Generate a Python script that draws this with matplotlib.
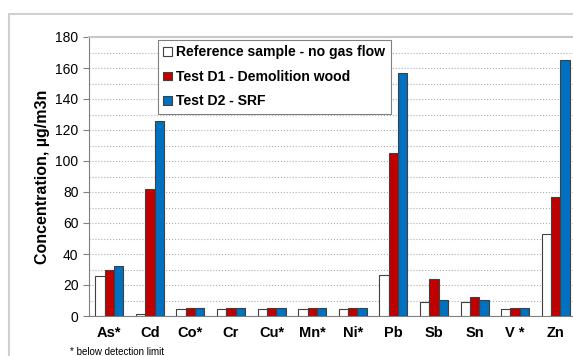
import numpy as np
import matplotlib.pyplot as plt
from matplotlib.patches import Rectangle

elements = ['As*', 'Cd', 'Co*', 'Cr', 'Cu*', 'Mn*', 'Ni*', 'Pb', 'Sb', 'Sn', 'V *', 'Zn']
reference = [26, 1.5, 4.5, 4.5, 4.5, 4.5, 4.5, 26.5, 9, 9, 4.5, 53]
test_d1 = [30, 82, 5, 5, 5, 5, 5, 105, 24, 12, 5, 76.5]
test_d2 = [32, 126, 5, 5, 5, 5, 5, 157, 10.5, 10.5, 5, 165]
labels = ['Reference sample - no gas flow', 'Test D1 - Demolition wood', 'Test D2 - SRF']

plt.rcParams['font.family'] = ['Liberation Sans', 'DejaVu Sans']

fig = plt.figure(figsize=(5.73, 3.56), dpi=100)
fig.patches.append(Rectangle((9 / 573, -0.1), 1.2, 1 - 14 / 356 + 0.1,
                             transform=fig.transFigure, fill=False,
                             edgecolor='#d0d0d0', linewidth=1.5))
ax = fig.add_axes([89 / 573, 1 - 316 / 356, 487 / 573, 279 / 356])

x = np.arange(len(elements))
w = 0.23
edge = '#404040'
ax.bar(x - w, reference, w, color='white', edgecolor=edge, linewidth=0.8, label=labels[0], zorder=3)
ax.bar(x, test_d1, w, color='#C00000', edgecolor=edge, linewidth=0.8, label=labels[1], zorder=3)
ax.bar(x + w, test_d2, w, color='#0070C0', edgecolor=edge, linewidth=0.8, label=labels[2], zorder=3)

ax.set_xlim(-0.5, len(elements) - 0.5)
ax.set_ylim(0, 180)
ax.set_yticks(np.arange(0, 181, 20))
ax.set_yticks(np.arange(10, 180, 20), minor=True)
ax.grid(axis='y', which='both', linestyle=':', color='#b0b0b0', linewidth=0.8, zorder=0)
ax.set_xticks(x)
ax.set_xticklabels(elements, fontweight='bold', fontsize=10.5)
ax.tick_params(axis='x', length=0, pad=7)
ax.tick_params(axis='y', which='major', length=4, labelsize=10, color='#808080')
ax.tick_params(axis='y', which='minor', length=0)

for side in ['left', 'bottom']:
    ax.spines[side].set_color('#808080')
ax.spines['top'].set_color('#c8c8c8')
ax.spines['top'].set_linewidth(1.5)
ax.spines['right'].set_visible(False)

ax.set_ylabel('Concentration, µg/m3n', fontweight='bold', fontsize=11.5, labelpad=4)

leg = ax.legend(loc='upper left', bbox_to_anchor=(0.141, 0.99), borderaxespad=0,
                fancybox=False, edgecolor='#808080', framealpha=1,
                handlelength=0.6, handleheight=0.6, handletextpad=0.3,
                labelspacing=0.75, borderpad=0.4,
                prop={'weight': 'bold', 'size': 10.1})
leg.get_frame().set_linewidth(0.8)

fig.text(70 / 573, 1 - 347 / 356, '* below detection limit', fontsize=7, va='top')

fig.savefig('out.png', dpi=100)
